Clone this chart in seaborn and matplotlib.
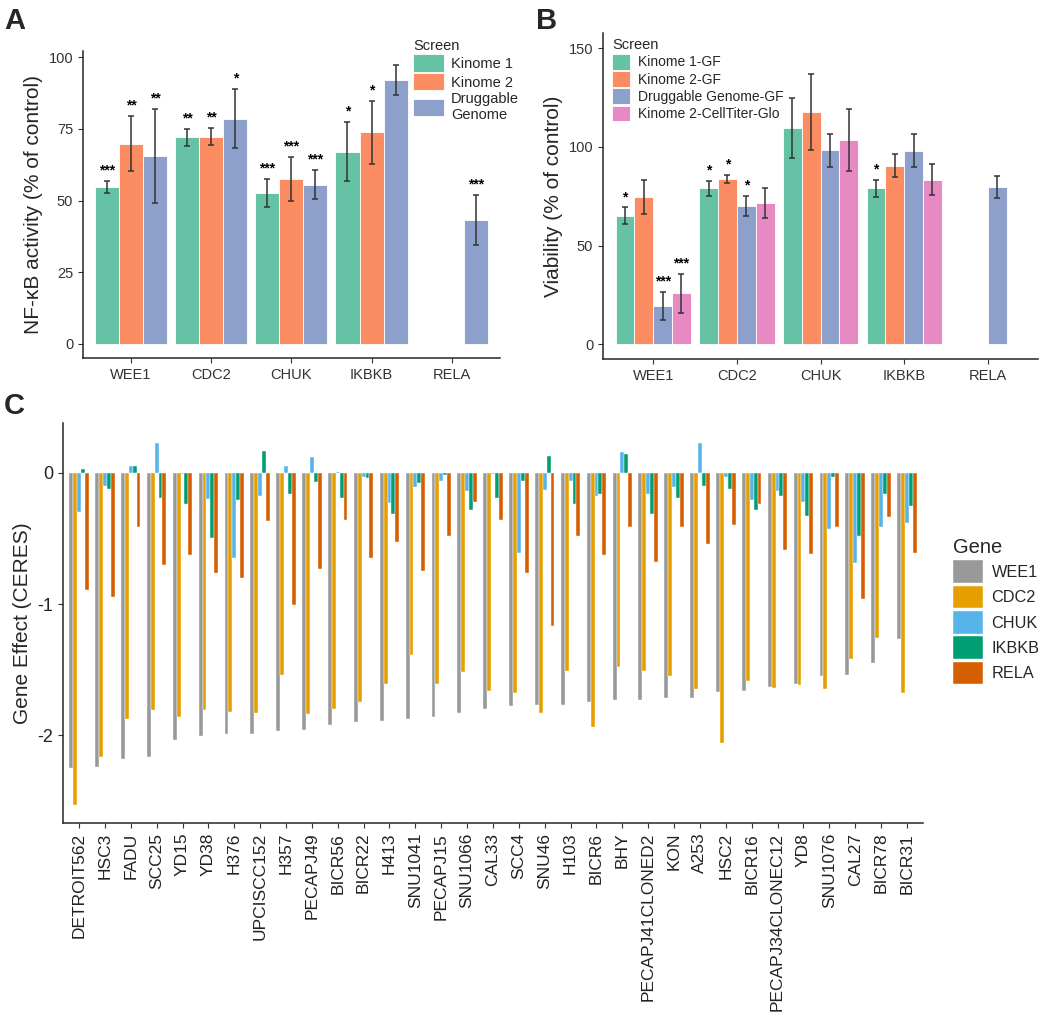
import numpy as np
import pandas as pd
import matplotlib
matplotlib.use('Agg')
import matplotlib.pyplot as plt
import seaborn as sns

# Panel A - NF-kB activity (% of control)
a_genes = ['WEE1', 'CDC2', 'CHUK', 'IKBKB', 'RELA']
a_screens = ['Kinome 1', 'Kinome 2', 'Druggable Genome']
a_kinome1 = [54.8, 72.1, 52.8, 67.0, np.nan]
a_kinome2 = [69.9, 72.3, 57.6, 73.8, np.nan]
a_druggable = [65.6, 78.6, 55.6, 92.0, 43.2]
a_kinome1_err = [2.1, 3.0, 4.9, 10.3, np.nan]
a_kinome2_err = [9.5, 3.0, 7.7, 10.9, np.nan]
a_druggable_err = [16.3, 10.4, 5.0, 5.3, 8.7]
a_kinome1_sig = ['***', '**', '***', '*', '']
a_kinome2_sig = ['**', '**', '***', '*', '']
a_druggable_sig = ['**', '*', '***', '', '***']

# Panel B - Viability (% of control)
b_genes = ['WEE1', 'CDC2', 'CHUK', 'IKBKB', 'RELA']
b_screens = ['Kinome 1-GF', 'Kinome 2-GF', 'Druggable Genome-GF', 'Kinome 2-CellTiter-Glo']
b_kinome1 = [65.0, 78.9, 109.6, 78.9, np.nan]
b_kinome2 = [74.7, 83.8, 117.6, 90.5, np.nan]
b_druggable = [19.4, 70.1, 98.3, 98.0, 79.6]
b_ctg = [25.8, 71.6, 103.5, 83.3, np.nan]
b_kinome1_err = [4.3, 3.9, 15.2, 4.5, np.nan]
b_kinome2_err = [8.6, 1.9, 19.4, 5.8, np.nan]
b_druggable_err = [6.9, 5.2, 8.4, 8.3, 5.7]
b_ctg_err = [9.8, 7.4, 15.6, 7.9, np.nan]
b_kinome1_sig = ['*', '*', '', '*', '']
b_kinome2_sig = ['', '*', '', '', '']
b_druggable_sig = ['***', '*', '', '', '']
b_ctg_sig = ['***', '', '', '', '']

# Panel C - Gene effect (CERES) per cell line
cell_lines = ['DETROIT562', 'HSC3', 'FADU', 'SCC25', 'YD15', 'YD38', 'H376', 'UPCISCC152',
              'H357', 'PECAPJ49', 'BICR56', 'BICR22', 'H413', 'SNU1041', 'PECAPJ15', 'SNU1066',
              'CAL33', 'SCC4', 'SNU46', 'H103', 'BICR6', 'BHY', 'PECAPJ41CLONED2', 'KON',
              'A253', 'HSC2', 'BICR16', 'PECAPJ34CLONEC12', 'YD8', 'SNU1076', 'CAL27',
              'BICR78', 'BICR31']
c_genes = ['WEE1', 'CDC2', 'CHUK', 'IKBKB', 'RELA']
wee1 = [-2.25, -2.24, -2.18, -2.17, -2.04, -2.01, -1.99, -1.99, -1.97, -1.96, -1.92,
        -1.90, -1.89, -1.88, -1.86, -1.83, -1.80, -1.78, -1.77, -1.77, -1.75, -1.73,
        -1.73, -1.72, -1.72, -1.67, -1.66, -1.63, -1.61, -1.55, -1.54, -1.45, -1.27]
cdc2 = [-2.53, -2.17, -1.88, -1.81, -1.86, -1.81, -1.82, -1.83, -1.54, -1.84, -1.80,
        -1.75, -1.61, -1.39, -1.61, -1.52, -1.66, -1.68, -1.83, -1.51, -1.94, -1.48,
        -1.51, -1.55, -1.65, -2.06, -1.59, -1.64, -1.62, -1.65, -1.42, -1.26, -1.68]
chuk = [-0.30, -0.10, 0.05, 0.23, -0.01, -0.20, -0.65, -0.18, 0.05, 0.12, 0.01,
        -0.03, -0.23, -0.11, -0.06, -0.14, -0.01, -0.61, -0.13, -0.06, -0.18, 0.16,
        -0.16, -0.11, 0.23, -0.03, -0.21, -0.14, -0.22, -0.43, -0.69, -0.41, -0.38]
ikbkb = [0.03, -0.12, 0.05, -0.19, -0.24, -0.50, -0.21, 0.17, -0.16, -0.07, -0.19,
         -0.04, -0.31, -0.08, -0.02, -0.28, -0.19, -0.06, 0.13, -0.24, -0.16, 0.14,
         -0.31, -0.19, -0.10, -0.12, -0.28, -0.18, -0.33, -0.03, -0.48, -0.16, -0.25]
rela = [-0.89, -0.95, -0.41, -0.70, -0.63, -0.76, -0.80, -0.37, -1.01, -0.73, -0.36,
        -0.65, -0.53, -0.75, -0.48, -0.22, -0.36, -0.76, -1.17, -0.48, -0.63, -0.41,
        -0.68, -0.41, -0.54, -0.40, -0.24, -0.59, -0.62, -0.41, -0.96, -0.34, -0.61]

set2 = ['#66C2A5', '#FC8D62', '#8DA0CB', '#E78AC3']
gene_colors = ['#999999', '#E69F00', '#56B4E9', '#009E73', '#D55E00']


def long_table(genes, screens, means, errs, sigs):
    rows = []
    for s, m, e, g in zip(screens, means, errs, sigs):
        for gene, mv, ev, gv in zip(genes, m, e, g):
            if not np.isnan(mv):
                rows.append({'Gene': gene, 'Screen': s, 'value': mv, 'err': ev, 'sig': gv})
    return pd.DataFrame(rows)


df_a = long_table(a_genes, a_screens, [a_kinome1, a_kinome2, a_druggable],
                  [a_kinome1_err, a_kinome2_err, a_druggable_err],
                  [a_kinome1_sig, a_kinome2_sig, a_druggable_sig])
df_b = long_table(b_genes, b_screens, [b_kinome1, b_kinome2, b_druggable, b_ctg],
                  [b_kinome1_err, b_kinome2_err, b_druggable_err, b_ctg_err],
                  [b_kinome1_sig, b_kinome2_sig, b_druggable_sig, b_ctg_sig])
df_c = pd.DataFrame({'cell_line': cell_lines, 'WEE1': wee1, 'CDC2': cdc2,
                     'CHUK': chuk, 'IKBKB': ikbkb, 'RELA': rela})
df_c = df_c.melt(id_vars='cell_line', var_name='Gene', value_name='effect')

sns.set_style('ticks')
plt.rcParams['font.family'] = ['Liberation Sans', 'DejaVu Sans']
plt.rcParams['axes.linewidth'] = 1.1
plt.rcParams['xtick.major.size'] = 3.5
plt.rcParams['ytick.major.size'] = 3.5
plt.rcParams['xtick.color'] = '#333333'
plt.rcParams['ytick.color'] = '#333333'

fig = plt.figure(figsize=(10.5, 10.31), dpi=100)
axA = fig.add_axes([0.079, 0.6528, 0.397, 0.2978])
axB = fig.add_axes([0.5743, 0.6518, 0.4143, 0.3162])
axC = fig.add_axes([0.060, 0.2017, 0.819, 0.388])


def bar_panel(ax, df, genes, screens, colors):
    sns.barplot(data=df, x='Gene', y='value', hue='Screen', order=genes, hue_order=screens,
                palette=colors, errorbar=None, saturation=1, width=0.9,
                edgecolor='white', linewidth=0.6, ax=ax)
    for screen, cont in zip(screens, ax.containers):
        sub = df[df['Screen'] == screen].set_index('Gene')
        for bar in cont:
            cx = bar.get_x() + bar.get_width() / 2
            gene = genes[int(round(cx))]
            if gene not in sub.index:
                continue
            row = sub.loc[gene]
            ax.errorbar(cx, row['value'], yerr=row['err'], color='#333333',
                        lw=1.1, capsize=2.5, capthick=1.1)
            if row['sig']:
                ax.annotate(row['sig'], (cx, row['value'] + row['err']), xytext=(0, 2.5),
                            textcoords='offset points', ha='center', va='bottom',
                            fontsize=10, fontweight='bold', color='black')
    ax.set_xlabel('')
    ax.set_xlim(-0.6, 4.6)
    ax.tick_params(labelsize=10.5, labelcolor='#333333')
    sns.despine(ax=ax)


# Panel A
bar_panel(axA, df_a, a_genes, a_screens, set2[:3])
axA.set_ylim(-4.9, 102.2)
axA.set_yticks([0, 25, 50, 75, 100])
axA.set_ylabel('NF-\u03baB activity (% of control)', fontsize=15)
h, l = axA.get_legend_handles_labels()
axA.legend(h, ['Kinome 1', 'Kinome 2', 'Druggable\nGenome'], title='Screen',
           loc='upper left', bbox_to_anchor=(0.381, 0.975), bbox_transform=fig.transFigure,
           frameon=False, fontsize=10.5, title_fontsize=10.5, handlelength=2.1,
           handleheight=1.45, labelspacing=0.1, handletextpad=0.5, alignment='left')

# Panel B
bar_panel(axB, df_b, b_genes, b_screens, set2)
axB.set_ylim(-7.4, 157.6)
axB.set_yticks([0, 50, 100, 150])
axB.set_ylabel('Viability (% of control)', fontsize=15)
h, l = axB.get_legend_handles_labels()
axB.legend(h, l, title='Screen', loc='upper left', bbox_to_anchor=(0.571, 0.975),
           bbox_transform=fig.transFigure, frameon=False, fontsize=10,
           title_fontsize=10.5, handlelength=1.3, handleheight=1.35, labelspacing=0.12,
           handletextpad=0.6, alignment='left')

# Panel C
sns.barplot(data=df_c, x='cell_line', y='effect', hue='Gene', order=cell_lines,
            hue_order=c_genes, palette=gene_colors, errorbar=None, saturation=1,
            width=0.75, edgecolor='white', linewidth=0.3, ax=axC)
axC.set_xlim(-0.62, len(cell_lines) - 0.38)
axC.set_ylim(-2.67, 0.38)
axC.set_yticks([-2, -1, 0])
axC.set_yticklabels(['-2', '-1', '0'])
axC.set_xlabel('')
axC.set_ylabel('Gene Effect (CERES)', fontsize=15)
axC.tick_params(axis='x', rotation=90, labelsize=12.5, labelcolor='#222222')
axC.tick_params(axis='y', labelsize=13, labelcolor='#222222')
sns.despine(ax=axC)
h, l = axC.get_legend_handles_labels()
axC.legend(h, l, title='Gene', loc='upper left', bbox_to_anchor=(0.894, 0.492),
           bbox_transform=fig.transFigure, frameon=False, fontsize=11.7,
           title_fontsize=14.5, handlelength=1.8, handleheight=1.75, labelspacing=0.18,
           handletextpad=0.55, alignment='left')

fig.text(0.004, 0.993, 'A', fontsize=21, fontweight='bold', va='top')
fig.text(0.510, 0.993, 'B', fontsize=21, fontweight='bold', va='top')
fig.text(0.004, 0.620, 'C', fontsize=21, fontweight='bold', va='top')

fig.savefig('out.png', dpi=100)
